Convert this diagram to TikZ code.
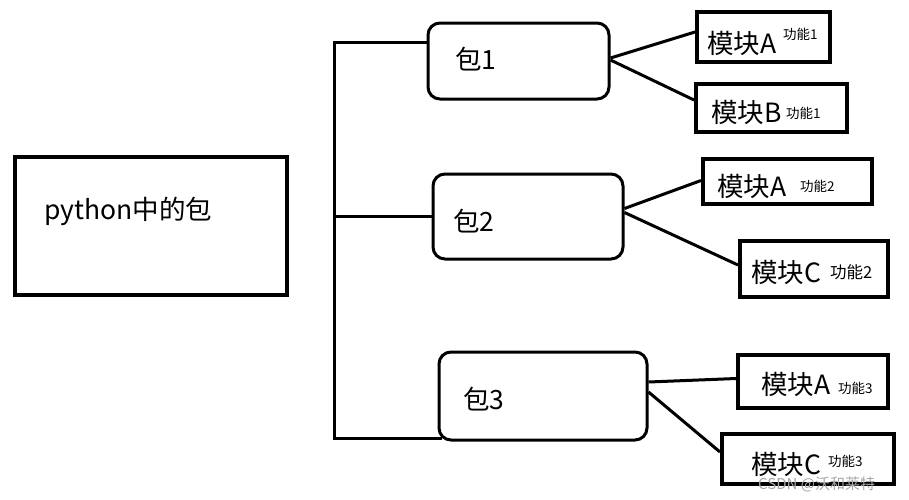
\documentclass[tikz,border=0pt]{standalone}
\usepackage{fontspec}
\newfontfamily\cjk{Noto Sans CJK SC}
\begin{document}
\begin{tikzpicture}[x=1pt,y=-1pt,
  sqbox/.style={draw,line width=4pt,rectangle,inner sep=0pt},
  rbox/.style={draw,line width=3pt,rectangle,rounded corners=12pt,inner sep=0pt},
  conn/.style={line width=3pt},
  lbl/.style={anchor=west,inner sep=0pt,font=\cjk\fontsize{26.5}{30}\selectfont},
  sup/.style={anchor=west,inner sep=0pt,font=\cjk\fontsize{13.5}{16}\selectfont},
  supbig/.style={anchor=west,inner sep=0pt,font=\cjk\fontsize{16.5}{19}\selectfont},
  wm/.style={anchor=west,inner sep=0pt,text=black!35,font=\cjk\fontsize{15}{17}\selectfont}]
\useasboundingbox (0,0) rectangle (909,499);
% main box
\node[sqbox,minimum width=272pt,minimum height=138pt] (py) at (151,226) {};
\node[lbl] (pyt) at (44,211) {python中的包};
% packages
\node[rbox,minimum width=181pt,minimum height=76pt] (p1) at (518.5,61) {};
\node[rbox,minimum width=190pt,minimum height=85pt] (p2) at (528,216.5) {};
\node[rbox,minimum width=208pt,minimum height=88pt] (p3) at (543,396) {};
\node[lbl] (p1t) at (455,59) {包1};
\node[lbl] (p2t) at (453,221) {包2};
\node[lbl] (p3t) at (463,399) {包3};
% modules
\node[sqbox,minimum width=133pt,minimum height=50pt] (a1) at (763.5,37) {};
\node[sqbox,minimum width=151pt,minimum height=48pt] (b1) at (771.5,108) {};
\node[sqbox,minimum width=169pt,minimum height=45pt] (a2) at (787.5,181.5) {};
\node[sqbox,minimum width=148pt,minimum height=56pt] (c2) at (814,269) {};
\node[sqbox,minimum width=150pt,minimum height=53pt] (a3) at (813,381.5) {};
\node[sqbox,minimum width=172pt,minimum height=50pt] (c3) at (808,459) {};
\node[lbl] (a1t) at (707,43) {模块A};
\node[sup] (a1s) at (783,34) {功能1};
\node[lbl] (b1t) at (711,112) {模块B};
\node[sup] (b1s) at (786,113) {功能1};
\node[lbl] (a2t) at (717,186) {模块A};
\node[sup] (a2s) at (800,186) {功能2};
\node[lbl] (c2t) at (751,272) {模块C};
\node[supbig] (c2s) at (830,272) {功能2};
\node[lbl] (a3t) at (761,384) {模块A};
\node[sup] (a3s) at (838,388) {功能3};
\node[lbl] (c3t) at (751,464) {模块C};
\node[sup] (c3s) at (828,461) {功能3};
% bracket
\coordinate (top) at (334,42);
\coordinate (bot) at (334,438);
\draw[conn] (top -| p1.west) -- (top) -- (bot) -- ([xshift=4pt]bot -| p3.west);
\draw[conn] (p2.west) -- (p2.west -| top);
% connectors
\draw[conn] ([yshift=3pt]p1.east) -- ([yshift=5pt]a1.west);
\draw[conn] ([yshift=1pt]p1.east) -- ([yshift=8pt]b1.west);
\draw[conn] ([yshift=8pt]p2.east) -- ([yshift=1pt]a2.west);
\draw[conn] ([yshift=4pt]p2.east) -- ([yshift=4pt]c2.west);
\draw[conn] ([yshift=14pt]p3.east) -- ([yshift=3pt]a3.west);
\draw[conn] ([yshift=4pt]p3.east) -- ([yshift=7pt]c3.west);
% watermark
\node[wm] (wmk) at (758,484) {CSDN @沃和莱特};
\end{tikzpicture}
\end{document}
